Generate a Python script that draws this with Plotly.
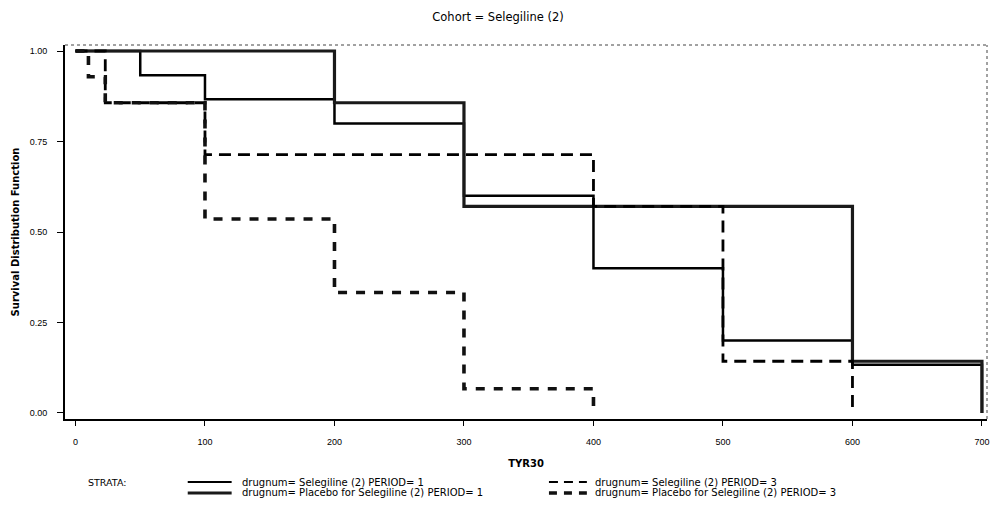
import plotly.graph_objects as go

# Kaplan-Meier step estimates by stratum (time in TYR30 units)
sel_p1_time = [0, 50, 100, 200, 300, 400, 500, 600, 700]
sel_p1_surv = [1.0, 0.933, 0.867, 0.800, 0.600, 0.400, 0.200, 0.133, 0.0]

plac_p1_time = [0, 200, 300, 600, 700]
plac_p1_surv = [1.0, 0.857, 0.571, 0.143, 0.0]

sel_p3_time = [0, 23, 100, 400, 500, 600]
sel_p3_surv = [1.0, 0.857, 0.714, 0.571, 0.143, 0.0]

plac_p3_time = [0, 10, 23, 100, 200, 300, 400]
plac_p3_surv = [1.0, 0.929, 0.857, 0.536, 0.333, 0.067, 0.0]

x_ticks = [0, 100, 200, 300, 400, 500, 600, 700]
y_ticks = [0.0, 0.25, 0.50, 0.75, 1.0]

strata_labels = [
    "drugnum= Selegiline (2) PERIOD= 1",
    "drugnum= Placebo for Selegiline (2) PERIOD= 1",
    "drugnum= Selegiline (2) PERIOD= 3",
    "drugnum= Placebo for Selegiline (2) PERIOD= 3",
]

TEXT_FONT = "DejaVu Sans, Verdana, sans-serif"
TICK_FONT = "Liberation Sans, Arial, sans-serif"
W, H = 996, 516
ML, MR, MT, MB = 65, 7, 45, 97
PW, PH = W - ML - MR, H - MT - MB

styles = [
    dict(color="#000000", width=2.5, dash="solid"),
    dict(color="#1a1a1a", width=3.2, dash="solid"),
    dict(color="#000000", width=2.8, dash="12px,7px"),
    dict(color="#111111", width=3.6, dash="9px,9px"),
]

series = [
    (sel_p1_time, sel_p1_surv),
    (plac_p1_time, plac_p1_surv),
    (sel_p3_time, sel_p3_surv),
    (plac_p3_time, plac_p3_surv),
]

fig = go.Figure()
for (t, s), st, name in zip(series, styles, strata_labels):
    fig.add_trace(go.Scatter(
        x=t, y=s, mode="lines", name=name,
        line=dict(shape="hv", **st),
        showlegend=False,
    ))


def fx(px):
    return (px - ML) / PW


def fy(py):
    return (H - MB - py) / PH


# Light frame on the top and right sides of the plotting area
shapes = [
    dict(type="line", xref="paper", yref="paper", x0=0, x1=1, y0=1, y1=1,
         line=dict(color="#444", width=1, dash="dot")),
    dict(type="line", xref="paper", yref="paper", x0=1, x1=1, y0=0, y1=1,
         line=dict(color="#444", width=1, dash="dot")),
]

# Legend block drawn below the axis
legend_rows = [(482, 188, 232, 240), (493, 188, 232, 240),
               (482, 550, 588, 594), (493, 550, 588, 594)]
legend_styles = [
    dict(color="#000000", width=1.8, dash="solid"),
    dict(color="#1a1a1a", width=3.2, dash="solid"),
    dict(color="#000000", width=2.2, dash="9px,6px"),
    dict(color="#111111", width=3.4, dash="8px,7px"),
]
annotations = []
for (py, x0, x1, xt), st, label in zip(legend_rows, legend_styles, strata_labels):
    shapes.append(dict(type="line", xref="paper", yref="paper",
                       x0=fx(x0), x1=fx(x1), y0=fy(py), y1=fy(py), line=st))
    annotations.append(dict(xref="paper", yref="paper", x=fx(xt), y=fy(py),
                            text=label, showarrow=False, xanchor="left",
                            yanchor="middle",
                            font=dict(family=TEXT_FONT, size=10, color="#000")))
annotations.append(dict(xref="paper", yref="paper", x=fx(86), y=fy(482),
                        text="STRATA:", showarrow=False, xanchor="left",
                        yanchor="middle",
                        font=dict(family=TEXT_FONT, size=9.5, color="#000")))

fig.update_layout(
    width=W, height=H,
    margin=dict(l=ML, r=MR, t=MT, b=MB),
    paper_bgcolor="white", plot_bgcolor="white",
    title=dict(text="Cohort = Selegiline (2)", x=0.5, xref="container",
               xanchor="center", y=1 - 17 / H, yanchor="middle",
               font=dict(family=TEXT_FONT, size=11.5, color="#000")),
    font=dict(family=TEXT_FONT, size=10, color="#000"),
    shapes=shapes,
    annotations=annotations,
    xaxis=dict(
        range=[-8.1, 703.9], tickvals=x_ticks,
        ticktext=[str(v) for v in x_ticks],
        ticks="outside", ticklen=5, tickwidth=1, tickcolor="#000",
        ticklabelstandoff=8,
        showline=True, linecolor="#000", linewidth=1.8, mirror=False,
        showgrid=False, zeroline=False,
        tickfont=dict(family=TICK_FONT, size=9, color="#000"),
        title=dict(text="<b>TYR30</b>", standoff=14,
                   font=dict(family=TEXT_FONT, size=10, color="#000")),
    ),
    yaxis=dict(
        range=[-0.0166, 1.0166], tickvals=y_ticks,
        ticktext=[f"{v:.2f}" for v in y_ticks],
        ticks="outside", ticklen=6, tickwidth=1, tickcolor="#000",
        ticklabelstandoff=8,
        showline=True, linecolor="#000", linewidth=1.8, mirror=False,
        showgrid=False, zeroline=False,
        tickfont=dict(family=TICK_FONT, size=9, color="#000"),
        title=dict(text="<b>Survival Distribution Function</b>", standoff=8,
                   font=dict(family=TEXT_FONT, size=10, color="#000")),
    ),
)

fig.write_html("out.html")
